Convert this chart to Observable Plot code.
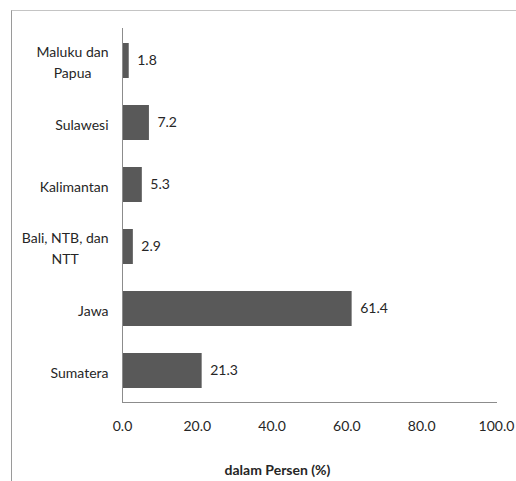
<!DOCTYPE html>
<html>
<head>
<meta charset="utf-8">
<script src="https://cdn.jsdelivr.net/npm/d3@7"></script>
<script src="https://cdn.jsdelivr.net/npm/@observablehq/plot@0.6"></script>
<style>
  html, body { margin: 0; padding: 0; background: #fff; }
  #wrap { position: relative; width: 516px; height: 481px; overflow: hidden; }
  #border {
    position: absolute; left: 11px; top: 10px; right: -2px; bottom: -2px;
    border-left: 1px solid #9a9a9a; border-top: 1px solid #c4c4c4;
  }
  #chart { position: absolute; left: 0; top: 0; }
</style>
</head>
<body>
<div id="wrap">
  <div id="border"></div>
  <div id="chart"></div>
</div>
<script>
// Share of the total by island group, in percent
const regions = ["Maluku dan\nPapua", "Sulawesi", "Kalimantan", "Bali, NTB, dan\nNTT", "Jawa", "Sumatera"];
const shares = [1.8, 7.2, 5.3, 2.9, 61.4, 21.3];
const xTicks = [0, 20, 40, 60, 80, 100];
const xTitle = "dalam Persen (%)";

const rows = regions.map((region, i) => ({region, share: shares[i]}));
const fmt = d3.format(".1f");
const font = "Lato, 'Open Sans', sans-serif";
const ink = "#262626";
const axisGray = "#8c8c8c";

const chart = Plot.plot({
  width: 516,
  height: 481,
  marginLeft: 122,
  marginRight: 20,
  marginTop: 28,
  marginBottom: 79,
  style: {fontFamily: font, fontSize: "14px", color: ink, background: "transparent", overflow: "visible"},
  x: {domain: [0, 100]},
  y: {domain: regions, paddingInner: 0.44, paddingOuter: 0.22},
  marks: [
    Plot.barX(rows, {x: "share", y: "region", fill: "#595959"}),
    Plot.text(rows, {x: "share", y: "region", text: d => fmt(d.share), textAnchor: "start", dx: 8, fill: ink, fontSize: 14}),
    Plot.axisX({ticks: xTicks, tickFormat: fmt, tickSize: 0, tickPadding: 19, label: null, fill: ink}),
    Plot.axisY({tickSize: 0, tickPadding: 14, label: null, lineHeight: 1.45, fill: ink}),
    Plot.ruleX([0], {stroke: axisGray}),
    Plot.frame({anchor: "bottom", stroke: axisGray}),
    Plot.text([xTitle], {frameAnchor: "bottom", dy: 72, dx: -32, fontWeight: "bold", fontSize: 14, fill: ink})
  ]
});

document.getElementById("chart").append(chart);

// Centre each line of a wrapped category label under its widest line,
// keeping the block's right edge against the axis (labels stay end-anchored).
const yLabels = chart.querySelector('g[aria-label="y-axis tick label"]');
if (yLabels) {
  yLabels.querySelectorAll("text").forEach(t => {
    const lines = Array.from(t.querySelectorAll("tspan"));
    if (lines.length < 2) return;
    const widths = lines.map(s => s.getComputedTextLength());
    const widest = Math.max(...widths);
    lines.forEach((s, i) => {
      const x0 = parseFloat(s.getAttribute("x") || "0");
      s.setAttribute("x", x0 - (widest - widths[i]) / 2);
    });
  });
}
</script>
</body>
</html>
